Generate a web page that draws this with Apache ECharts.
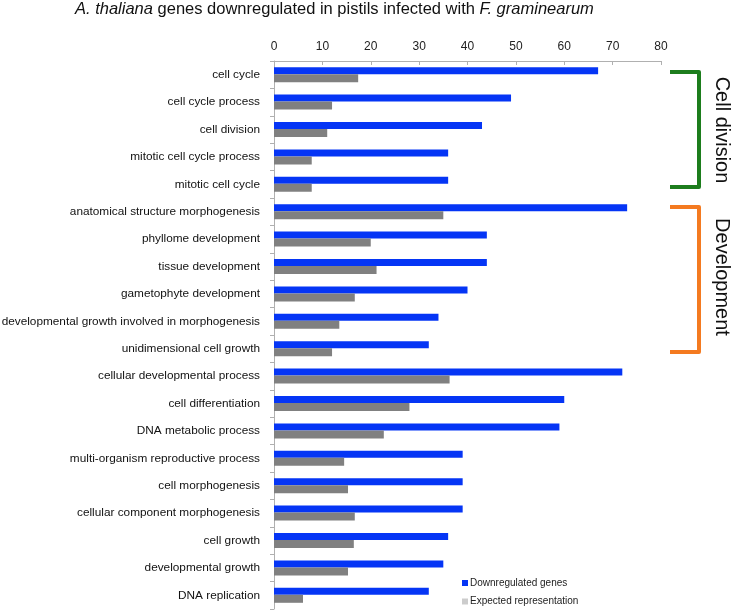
<!DOCTYPE html>
<html><head><meta charset="utf-8">
<script src="https://cdn.jsdelivr.net/npm/echarts@6/dist/echarts.min.js"></script>
<style>html,body{margin:0;padding:0;background:#fff}#c{width:732px;height:610px}</style>
</head><body><div id="c"></div>
<script>
const categories = [
  "cell cycle","cell cycle process","cell division","mitotic cell cycle process","mitotic cell cycle",
  "anatomical structure morphogenesis","phyllome development","tissue development","gametophyte development",
  "developmental growth involved in morphogenesis","unidimensional cell growth","cellular developmental process",
  "cell differentiation","DNA metabolic process","multi-organism reproductive process","cell morphogenesis",
  "cellular component morphogenesis","cell growth","developmental growth","DNA replication"
];
const downregulated = [67,49,43,36,36,73,44,44,40,34,32,72,60,59,39,39,39,36,35,32];
const expected = [17.4,12,11,7.8,7.8,35,20,21.2,16.7,13.5,12,36.3,28,22.7,14.5,15.3,16.7,16.5,15.3,6];
const xTicks = {min:0, max:80, interval:10};
const seriesNames = ["Downregulated genes","Expected representation"];

const chart = echarts.init(document.getElementById('c'));
const F = '"Liberation Sans", Arial, sans-serif';
chart.setOption({
  animation:false,
  textStyle:{fontFamily:F},
  title:{
    text:'{i|A. thaliana} genes downregulated in pistils infected with {i|F. graminearum}',
    left:75, top:1, padding:0,
    textStyle:{fontSize:16.5,fontWeight:'normal',color:'#111',fontFamily:F,
      rich:{i:{fontStyle:'italic',fontSize:16.5,color:'#111',fontFamily:F}}}
  },
  grid:{left:274,top:61,width:387,height:548,containLabel:false,outerBoundsMode:'none'},
  xAxis:{type:'value',position:'top',min:xTicks.min,max:xTicks.max,interval:xTicks.interval,
    axisLine:{show:true,lineStyle:{color:'#b0b0b0',width:1}},
    axisTick:{show:true,inside:true,length:4,lineStyle:{color:'#b0b0b0'}},
    axisLabel:{fontSize:12,color:'#222',margin:8,fontFamily:F},
    splitLine:{show:false}},
  yAxis:{type:'category',data:categories,inverse:true,
    axisLine:{show:true,lineStyle:{color:'#b0b0b0',width:1}},
    axisTick:{show:true,length:4,lineStyle:{color:'#b0b0b0'}},
    axisLabel:{fontSize:11.8,color:'#111',margin:14,fontFamily:F}},
  legend:{orient:'vertical',left:462,top:577,padding:0,itemWidth:6,itemHeight:6,itemGap:6.5,
    textStyle:{fontSize:10,lineHeight:12,color:'#222',fontFamily:F,padding:[0,0,0,-3]},
    data:[{name:seriesNames[0],icon:'rect',itemStyle:{color:'#0535f5'}},
          {name:seriesNames[1],icon:'rect',itemStyle:{color:'#cccccc'}}]},
  series:[
    {name:seriesNames[0],type:'bar',data:downregulated,barWidth:7,barGap:'0%',
      itemStyle:{color:'#0535f5'}},
    {name:seriesNames[1],type:'bar',data:expected,barWidth:8,barGap:'0%',
      itemStyle:{color:'#808080'}}
  ],
  graphic:[
    {type:'polyline',shape:{points:[[670,72],[699,72],[699,187],[670,187]]},
      style:{stroke:'#1d7d1d',lineWidth:4,fill:null,lineJoin:'round'}},
    {type:'polyline',shape:{points:[[670,207],[699,207],[699,352],[670,352]]},
      style:{stroke:'#f47a20',lineWidth:4,fill:null,lineJoin:'round'}},
    {type:'text',x:722,y:130,rotation:-Math.PI/2,
      style:{text:'Cell division',fontSize:20,fontFamily:F,fill:'#111',align:'center',verticalAlign:'middle'}},
    {type:'text',x:722,y:277,rotation:-Math.PI/2,
      style:{text:'Development',fontSize:20,fontFamily:F,fill:'#111',align:'center',verticalAlign:'middle'}}
  ]
});
</script></body></html>
